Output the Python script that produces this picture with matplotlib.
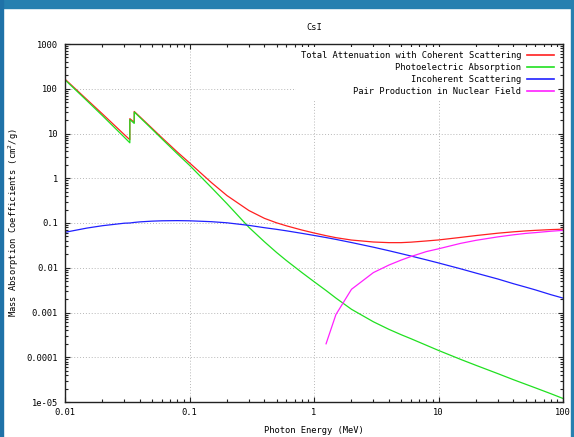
import numpy as np
import matplotlib
matplotlib.use("Agg")
import matplotlib.pyplot as plt
from matplotlib.patches import Rectangle
from matplotlib.ticker import FixedLocator, LogLocator, NullFormatter

# Photon energies (MeV); K-edges of I (0.03317) and Cs (0.03598) appear twice
energy = [0.01, 0.015, 0.02, 0.03, 0.03317, 0.03317, 0.035, 0.03598, 0.03598,
          0.04, 0.05, 0.06, 0.08, 0.1, 0.15, 0.2, 0.3, 0.4, 0.5, 0.6, 0.8,
          1.0, 1.25, 1.5, 2.0, 3.0, 4.0, 5.0, 6.0, 8.0, 10.0, 15.0, 20.0,
          30.0, 40.0, 50.0, 60.0, 80.0, 100.0]

total = [164, 57.4, 27.3, 9.4, 7.25, 21.5, 19.0, 17.7, 31.1,
         23.6, 13.1, 8.07, 3.83, 2.21, 0.80, 0.41, 0.19, 0.127, 0.101, 0.0865, 0.0696,
         0.0599, 0.0521, 0.0470, 0.0416, 0.0376, 0.0364, 0.0364, 0.0373, 0.0397, 0.0418,
         0.0476, 0.0524, 0.0592, 0.0635, 0.0665, 0.0685, 0.0712, 0.0728]

photo = [158, 54, 25, 8.2, 6.2, 20.5, 18.0, 16.8, 30.2,
         22.8, 12.5, 7.6, 3.5, 1.95, 0.62, 0.27, 0.08, 0.038, 0.022, 0.0145, 0.0078,
         0.0049, 0.0031, 0.0021, 0.00118, 0.00062, 0.00042, 0.00032, 0.00026, 0.000185,
         0.000142, 0.000090, 0.000066, 0.000043, 0.0000315, 0.000025, 0.0000207,
         0.0000153, 0.000012]

incoherent = [0.062, 0.077, 0.087, 0.099, 0.100, 0.100, 0.102, 0.103, 0.103,
              0.106, 0.110, 0.112, 0.113, 0.112, 0.107, 0.101, 0.0885, 0.0785,
              0.0722, 0.0669, 0.0587, 0.0528, 0.0473, 0.0430, 0.0366, 0.0288,
              0.0240, 0.0207, 0.0183, 0.0150, 0.0128, 0.0095, 0.0076, 0.0056,
              0.0044, 0.0037, 0.0032, 0.0025, 0.0021]

pair_energy = [1.25, 1.5, 2.0, 3.0, 4.0, 5.0, 6.0, 8.0, 10.0, 15.0, 20.0,
               30.0, 40.0, 50.0, 60.0, 80.0, 100.0]
pair_nuclear = [0.0002, 0.0009, 0.0033, 0.0078, 0.0115, 0.0148, 0.0178, 0.0230,
                0.0265, 0.0350, 0.0410, 0.0490, 0.0545, 0.0585, 0.0610, 0.0655,
                0.0685]

series = [
    ("Total Attenuation with Coherent Scattering", energy, total, "#ff2020"),
    ("Photoelectric Absorption", energy, photo, "#20e020"),
    ("Incoherent Scattering", energy, incoherent, "#2020ff"),
    ("Pair Production in Nuclear Field", pair_energy, pair_nuclear, "#ff20ff"),
]

ytick_vals = [1e3, 1e2, 1e1, 1, 0.1, 0.01, 0.001, 0.0001, 1e-5]
ytick_labels = ["1000", "100", "10", "1", "0.1", "0.01", "0.001", "0.0001", "1e-05"]
xtick_vals = [0.01, 0.1, 1, 10, 100]
xtick_labels = ["0.01", "0.1", "1", "10", "100"]

plt.rcParams["font.family"] = ["DejaVu Sans Mono"]
FS = 6.3

fig = plt.figure(figsize=(5.74, 4.37), dpi=100)
ax = fig.add_axes([65 / 574, 35 / 437, 498 / 574, 358 / 437])

for label, x, y, c in series:
    ax.plot(x, y, color=c, lw=0.9, label=label)

ax.set_xscale("log")
ax.set_yscale("log")
ax.set_xlim(0.01, 100)
ax.set_ylim(1e-5, 1e3)

ax.xaxis.set_major_locator(FixedLocator(xtick_vals))
ax.set_xticklabels(xtick_labels)
ax.yaxis.set_major_locator(FixedLocator(ytick_vals))
ax.set_yticklabels(ytick_labels)
for axis in (ax.xaxis, ax.yaxis):
    axis.set_minor_locator(LogLocator(base=10, subs=np.arange(2, 10), numticks=20))
    axis.set_minor_formatter(NullFormatter())

ax.tick_params(which="both", direction="in", top=True, right=True,
               labelsize=FS, color="#222222", width=0.8)
ax.tick_params(which="major", length=3.8)
ax.tick_params(which="minor", length=2.0)
ax.tick_params(axis="x", pad=4)
ax.tick_params(axis="y", pad=5)

ax.grid(True, which="major", color="#b8b8b8", lw=0.7, linestyle=(0, (1, 2)))
for s in ax.spines.values():
    s.set_color("#222222")
    s.set_linewidth(1.0)

ax.set_title("CsI", fontsize=FS, pad=10)
ax.set_xlabel("Photon Energy (MeV)", fontsize=FS, labelpad=7)
ax.set_ylabel("Mass Absorption Coefficients (cm$^2$/g)", fontsize=FS, labelpad=4)

leg = ax.legend(loc="upper right", bbox_to_anchor=(0.995, 1.0), fontsize=FS,
                markerfirst=False, frameon=True, facecolor="white",
                edgecolor="none", framealpha=1.0, fancybox=False,
                handlelength=3.0, handletextpad=0.7, labelspacing=0.33,
                borderpad=0.5, borderaxespad=0.3)
for col in leg._legend_handle_box.get_children():
    col.align = "right"
for line in leg.get_lines():
    line.set_linewidth(1.2)

# blue page frame around the screenshot
fig.patches.append(Rectangle((0, 429 / 437), 1, 8 / 437, transform=fig.transFigure,
                             color="#2680b0", zorder=10))
fig.patches.append(Rectangle((0, 0), 3 / 574, 1, transform=fig.transFigure,
                             color="#1f72a8", zorder=10))
fig.patches.append(Rectangle((571 / 574, 0), 3 / 574, 1, transform=fig.transFigure,
                             color="#2680b0", zorder=10))

fig.savefig("out.png", dpi=100)
